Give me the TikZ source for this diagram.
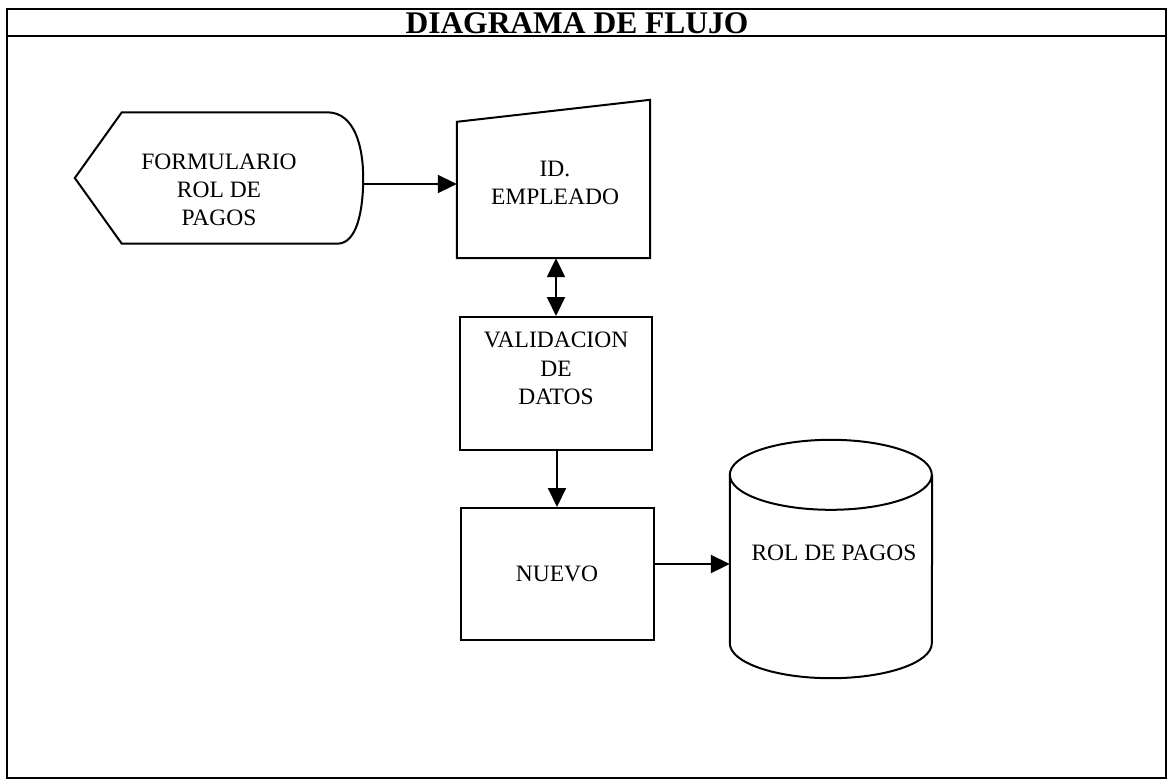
\documentclass[tikz,border=0pt]{standalone}
\usepackage{fontspec}
\setmainfont{Liberation Serif}
\usetikzlibrary{arrows.meta,calc}
\begin{document}
\begin{tikzpicture}[x=1pt,y=-1pt,
  lbl/.style={font=\fontsize{23.5}{28.3}\selectfont, align=center, inner sep=0pt},
  shp/.style={draw=black, line width=2pt, line join=miter},
  conn/.style={draw=black, line width=2pt, -{Triangle[length=19pt,width=18pt]}},
  biconn/.style={draw=black, line width=2pt, {Triangle[length=19pt,width=18pt]}-{Triangle[length=19pt,width=18pt]}},
  frame/.style={draw=black, line width=1.5pt}]
\useasboundingbox (0,0) rectangle (1169,782);
% frame and header
\draw[frame] (7,9) rectangle (1166,778);
\draw[frame] (7,36) -- (1166,36);
\node[font=\fontsize{31.5}{33}\selectfont\bfseries, inner sep=0pt] (title) at (577,23) {DIAGRAMA DE FLUJO};
% display shape
\node[lbl, minimum width=288pt, minimum height=131pt] (form) at (219,178) {};
\node[lbl] (formtxt) at (219,190) {FORMULARIO\\ROL DE\\PAGOS};
\draw[shp] (form.west) -- ($(form.north west)+(47,0)$) -- ($(form.north east)+(-36,0)$)
  .. controls ($(form.north east)+(-8,0)$) and ($(form.east)+(0,-30)$) .. (form.east)
  .. controls ($(form.east)+(0,32)$) and ($(form.south east)+(-6,0)$) .. ($(form.south east)+(-26,0)$)
  -- ($(form.south west)+(47,0)$) -- cycle;
% manual input
\node[lbl, minimum width=193pt, minimum height=158pt] (id) at (553.5,179) {};
\node[lbl] (idtxt) at (555,183) {ID.\\EMPLEADO};
\draw[shp] ($(id.north west)+(0,22)$) -- (id.north east) -- (id.south east) -- (id.south west) -- cycle;
% validation
\node[lbl, shp, minimum width=192pt, minimum height=133pt] (val) at (556,383.5) {};
\node[lbl] (valtxt) at (556,368.5) {VALIDACION\\DE\\DATOS};
% nuevo
\node[lbl, shp, minimum width=193pt, minimum height=132pt] (nuevo) at (557,574) {NUEVO};
% database cylinder
\node[lbl, minimum width=202pt, minimum height=238pt] (db) at (831,559) {};
\node[lbl] (dbtxt) at (834,553) {ROL DE PAGOS};
\draw[shp] ($(db.north west)+(0,35)$) arc[start angle=180, end angle=360, x radius=101pt, y radius=-35pt]
  arc[start angle=0, end angle=180, x radius=101pt, y radius=-35pt];
\draw[shp] ($(db.north west)+(0,35)$) -- ($(db.south west)+(0,-35)$)
  arc[start angle=180, end angle=360, x radius=101pt, y radius=35pt] -- ($(db.north east)+(0,35)$);
% connectors
\draw[conn] (form.east |- 0,184) -- (id.west |- 0,184);
\draw[biconn] (val.north |- id.south) -- (val.north);
\draw[conn] (nuevo.north |- val.south) -- (nuevo.north);
\draw[conn] (nuevo.east |- 0,564) -- (db.west |- 0,564);
\end{tikzpicture}
\end{document}
